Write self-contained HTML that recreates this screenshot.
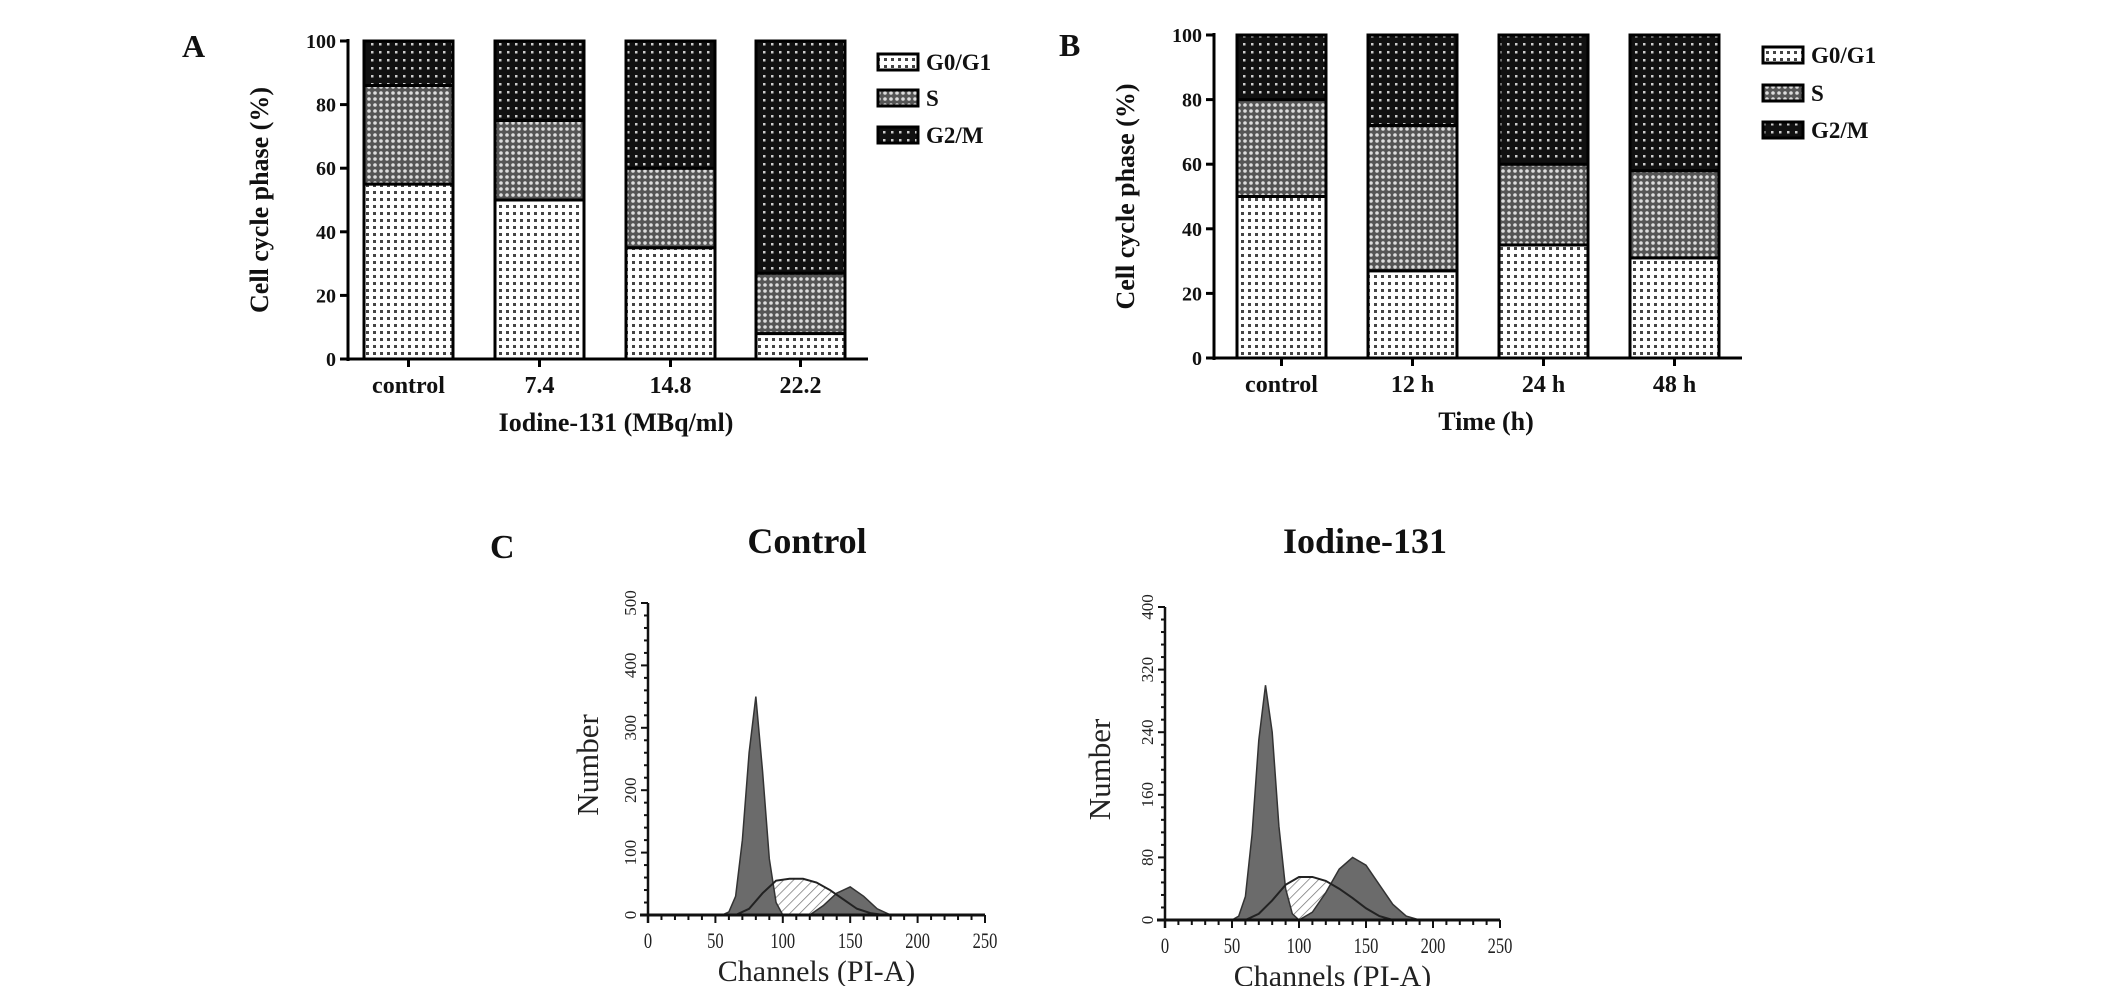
<!DOCTYPE html>
<html><head><meta charset="utf-8"><style>
html,body{margin:0;padding:0;background:#fff;}
svg{display:block;}
.b{font-family:"Liberation Serif",serif;font-weight:bold;fill:#111;}
.r{font-family:"Liberation Serif",serif;fill:#222;}
</style></head><body>
<svg id="fig" width="2126" height="986" viewBox="0 0 2126 986" xmlns="http://www.w3.org/2000/svg">
<defs>
<pattern id="pG1" width="7" height="7" patternUnits="userSpaceOnUse"><rect width="7" height="7" fill="#fff"/><rect x="2" y="2" width="3" height="3" fill="#444"/></pattern>
<pattern id="pS" width="6" height="6" patternUnits="userSpaceOnUse"><rect width="6" height="6" fill="#555"/><circle cx="3" cy="3" r="1.8" fill="#ddd"/></pattern>
<pattern id="pG2" width="8" height="8" patternUnits="userSpaceOnUse"><rect width="8" height="8" fill="#111"/><rect x="3" y="3" width="2.5" height="2.5" fill="#ccc"/></pattern>
<pattern id="hatch" width="7" height="7" patternUnits="userSpaceOnUse" patternTransform="rotate(45)"><rect width="7" height="7" fill="#fff"/><line x1="0" y1="0" x2="0" y2="7" stroke="#777" stroke-width="1.5"/></pattern>
</defs>
<g id="root"></g>
</svg>
<script>
// Panel A data
const catsA = ["control","7.4","14.8","22.2"];
const g1A = [55,50,35,8];
const sA = [31,25,25,19];
const g2A = [14,25,40,73];
// Panel B data
const catsB = ["control","12 h","24 h","48 h"];
const g1B = [50,27,35,31];
const sB = [30,45,25,27];
const g2B = [20,28,40,42];
const yTicksBar = [0,20,40,60,80,100];
// Panel C histogram data (control)
const cG1x = [55,60,65,70,75,80,85,90,95,100];
const cG1y = [0,5,30,120,260,350,230,90,20,0];
const cSx = [65,75,85,95,105,115,125,135,145,155,165,175];
const cSy = [0,10,35,55,58,58,52,40,25,10,3,0];
const cG2x = [120,130,140,150,160,170,180];
const cG2y = [0,15,35,45,30,10,0];
// Panel C histogram data (iodine-131)
const iG1x = [50,55,60,65,70,75,80,85,90,95,100];
const iG1y = [0,5,30,110,230,300,240,120,40,8,0];
const iSx = [60,70,80,90,100,110,120,130,140,150,160,170];
const iSy = [0,8,25,45,55,55,50,40,28,15,5,0];
const iG2x = [100,110,120,130,140,150,160,170,180,190];
const iG2y = [0,10,35,65,80,70,45,20,5,0];
const xTicksHist = [0,50,100,150,200,250];
const yTicksCtrl = [0,100,200,300,400,500];
const yTicksIod = [0,80,160,240,320,400];

const NS="http://www.w3.org/2000/svg";
const root=document.getElementById('root');
function el(tag,attrs,parent,text){const e=document.createElementNS(NS,tag);for(const k in attrs)e.setAttribute(k,attrs[k]);if(text!==undefined)e.textContent=text;(parent||root).appendChild(e);return e;}

function barPanel(o){
  const g=el('g',{});
  
  
  const y=v=>o.y0-(v/100)*(o.y0-o.y100);
  const t=el('text',{x:o.letterX,y:o.letterY,'font-size':32,class:'b'},g,o.letter);
  
  
  o.cats.forEach((c,i)=>{
    const x=o.barX[i], w=o.barW;
    let base=0;
    [[o.g1,'pG1','g0g1'],[o.s,'pS','s'],[o.g2,'pG2','g2m']].forEach(([arr,p,nm])=>{
      const v=arr[i];
      const r=el('rect',{x:x,y:y(base+v),width:w,height:y(base)-y(base+v),fill:'url(#'+p+')',stroke:'#000','stroke-width':3},g);
      
      
      base+=v;
    });
    el('line',{x1:x+w/2,y1:o.y0,x2:x+w/2,y2:o.y0+8,stroke:'#000','stroke-width':3},g);
    const tl=el('text',{x:x+w/2,y:o.y0+34,'font-size':24,'text-anchor':'middle',class:'b'},g,c);
    
    
  });
  el('line',{x1:o.ax,y1:o.y100-2,x2:o.ax,y2:o.y0+2,stroke:'#000','stroke-width':3},g);
  el('line',{x1:o.ax-8,y1:o.y0,x2:o.axEnd,y2:o.y0,stroke:'#000','stroke-width':3},g);
  yTicksBar.forEach(v=>{
    el('line',{x1:o.ax-8,y1:y(v),x2:o.ax,y2:y(v),stroke:'#000','stroke-width':3},g);
    const tl=el('text',{x:o.ax-12,y:y(v)+7,'font-size':20,'text-anchor':'end',class:'b'},g,v);
    
    
  });
  const yt=el('text',{x:0,y:0,'font-size':26,'text-anchor':'middle',class:'b',transform:`translate(${o.ytX},${(o.y0+o.y100)/2}) rotate(-90)`},g,'Cell cycle phase (%)');
  
  
  const xt=el('text',{x:(o.ax+o.axEnd)/2+8,y:o.y0+72,'font-size':26,'text-anchor':'middle',class:'b'},g,o.xtitle);
  
  
  [['G0/G1','pG1'],['S','pS'],['G2/M','pG2']].forEach(([lab,p],k)=>{
    const ly=o.legY[k];
    const lg=el('g',{},g);
    
    
    el('rect',{x:o.legX,y:ly-8,width:40,height:16,fill:'url(#'+p+')',stroke:'#000','stroke-width':3},lg);
    el('text',{x:o.legX+48,y:ly+8,'font-size':23,class:'b'},lg,lab);
  });
}
barPanel({name:'panel-a-chart',letter:'A',letterX:182,letterY:57,cats:catsA,g1:g1A,s:sA,g2:g2A,ax:348,axEnd:868,y0:359,y100:41,barX:[364,495,626,756],barW:89,ytX:268,xtitle:'Iodine-131 (MBq/ml)',legX:878,legY:[62,98,135]});
barPanel({name:'panel-b-chart',letter:'B',letterX:1059,letterY:56,cats:catsB,g1:g1B,s:sB,g2:g2B,ax:1214,axEnd:1742,y0:358,y100:35,barX:[1237,1368,1499,1630],barW:89,ytX:1134,xtitle:'Time (h)',legX:1763,legY:[55,93,130]});

function hist(o){
  const g=el('g',{});
  
  
  const X=v=>o.x0+v/250*(o.x250-o.x0);
  const Y=v=>o.y0-v/o.ymax*(o.y0-o.ytop);
  const pts=(xs,ys)=>xs.map((v,i)=>X(v)+','+Y(ys[i])).join(' ');
  const tt=el('text',{x:o.titleX,y:553,'font-size':36,'text-anchor':'middle',class:'b'},g,o.title);
  
  
  const sA=el('polygon',{points:pts(o.sx,o.sy),fill:'url(#hatch)',stroke:'none'},g);
  
  
  const g1=el('polygon',{points:pts(o.g1x,o.g1y),fill:'#6b6b6b',stroke:'#333','stroke-width':1.5},g);
  
  
  const g2=el('polygon',{points:pts(o.g2x,o.g2y),fill:'#6b6b6b',stroke:'#333','stroke-width':1.5},g);
  
  
  const sl=el('polyline',{points:pts(o.sx,o.sy),fill:'none',stroke:'#222','stroke-width':2},g);
  
  
  el('line',{x1:o.x0-8,y1:o.y0,x2:o.x250,y2:o.y0,stroke:'#111','stroke-width':3},g);
  el('line',{x1:o.x0,y1:o.ytop,x2:o.x0,y2:o.y0+8,stroke:'#111','stroke-width':2.5},g);
  for(let v=0;v<=250;v+=10){el('line',{x1:X(v),y1:o.y0,x2:X(v),y2:o.y0+(v%50?5:8),stroke:'#111','stroke-width':2},g);}
  const step=o.ymax/25;
  for(let k=0;k<=25;k++){el('line',{x1:o.x0-(k%5?4:7),y1:Y(k*step),x2:o.x0,y2:Y(k*step),stroke:'#111','stroke-width':2},g);}
  xTicksHist.forEach(v=>{
    const t=el('text',{x:X(v),y:o.y0+33,'font-size':22,'text-anchor':'middle',class:'r',transform:`translate(${X(v)},0) scale(0.75,1) translate(${-X(v)},0)`},g,v);
    
    
  });
  o.yt.forEach(v=>{
    const t=el('text',{x:0,y:0,'font-size':17,'text-anchor':'middle',class:'r',transform:`translate(${o.x0-12},${Y(v)}) rotate(-90)`},g,v);
    
    
  });
  const nt=el('text',{x:0,y:0,'font-size':31,'text-anchor':'middle',class:'r',transform:`translate(${o.numX},${(o.y0+o.ytop)/2+6}) rotate(-90)`},g,'Number');
  
  
  const ct=el('text',{x:(o.x0+o.x250)/2,y:o.y0+66,'font-size':30,'text-anchor':'middle',class:'r'},g,'Channels (PI-A)');
  
  
}
const cl=el('text',{x:490,y:558,'font-size':34,class:'b'},root,'C');


hist({name:'control-histogram',title:'Control',titleX:807,x0:648,x250:985,y0:915,ytop:603,ymax:500,yt:yTicksCtrl,numX:598,g1x:cG1x,g1y:cG1y,sx:cSx,sy:cSy,g2x:cG2x,g2y:cG2y});
hist({name:'iodine-histogram',title:'Iodine-131',titleX:1365,x0:1165,x250:1500,y0:920,ytop:607,ymax:400,yt:yTicksIod,numX:1110,g1x:iG1x,g1y:iG1y,sx:iSx,sy:iSy,g2x:iG2x,g2y:iG2y});
</script>
</body></html>
